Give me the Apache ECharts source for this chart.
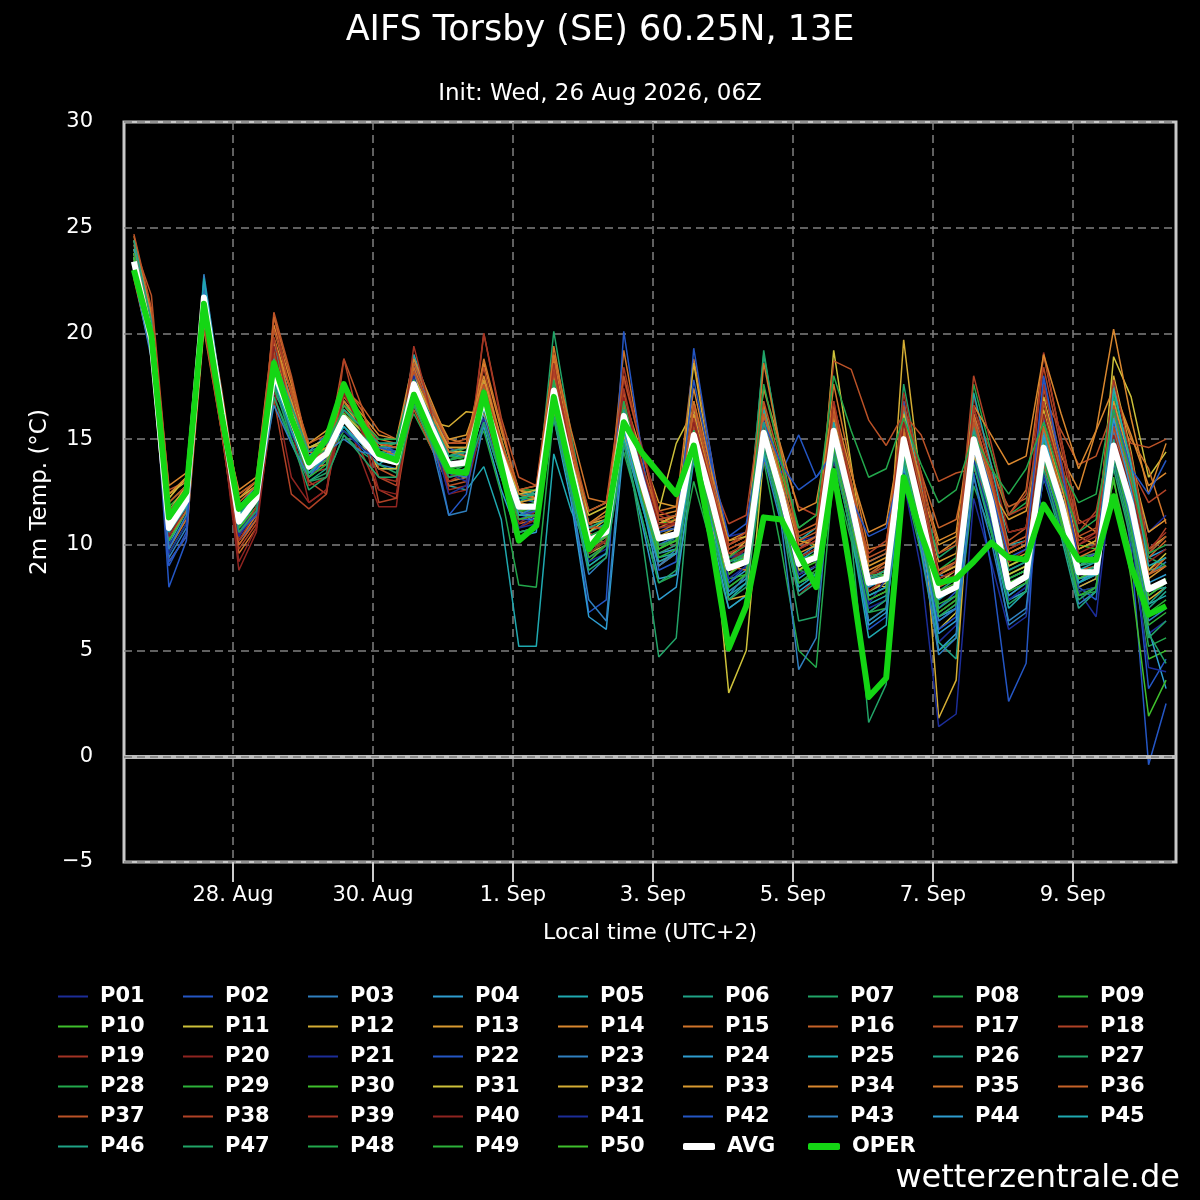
<!DOCTYPE html>
<html>
<head>
<meta charset="utf-8">
<title>AIFS Torsby (SE) 60.25N, 13E</title>
<script src="https://cdn.jsdelivr.net/npm/echarts@6/dist/echarts.min.js"></script>
<style>
html,body{margin:0;padding:0;background:#000;}
#chart{width:1200px;height:1200px;}
</style>
</head>
<body>
<div id="chart"></div>
<script>
// hours since 26 Aug 00:00 local time (UTC+2), 6-hourly steps
var hours = [14,20,26,32,38,44,50,56,62,68,74,80,86,92,98,104,110,116,122,128,134,140,146,152,158,164,170,176,182,188,194,200,206,212,218,224,230,236,242,248,254,260,266,272,278,284,290,296,302,308,314,320,326,332,338,344,350,356,362,368];
var xTickHours = [48,96,144,192,240,288,336];
var xTickLabels = ['28. Aug','30. Aug','1. Sep','3. Sep','5. Sep','7. Sep','9. Sep'];

// ensemble members (2m temperature, °C)
var p01 = [23.2,19.5,9.8,11.4, 22.0,16.8,11.5,12.4, 18.6,16.2,13.4,14.1, 15.8,15.2,14.6,14.2, 18.2,15.8,13.2,13.6, 16.4,14.0,11.2,11.6, 16.8,13.0,9.4,9.8, 16.6,13.4,10.8,10.9, 14.6,12.8,10.4,10.6, 16.0,13.2,9.6,9.2, 14.8,11.6,7.8,8.2, 15.2,10.8,5.4,6.2, 14.4,11.2,7.4,8.0, 15.8,12.6,7.8,6.6, 13.8,10.6,5.8,6.4];
var p02 = [23.6,20.1,8.0,10.2, 21.4,16.0,10.4,11.8, 17.8,15.4,13.6,14.6, 16.4,15.6,14.8,14.4, 18.6,16.4,14.6,14.2, 17.6,14.6,12.2,12.0, 17.8,14.2,10.6,11.0, 17.2,13.6,10.4,10.2, 16.4,13.4,9.2,9.8, 15.2,12.8,9.8,10.4, 16.2,12.6,8.6,8.2, 14.6,11.2,7.0,7.8, 15.6,12.4,8.8,9.2, 16.0,12.2,8.0,8.4, 15.2,9.8,-0.4,2.5];
var p03 = [23.4,19.6,10.4,11.8, 22.8,17.2,11.0,12.2, 17.2,15.8,14.0,15.0, 15.4,14.6,13.8,13.6, 17.0,15.0,13.2,13.4, 17.4,14.8,12.6,12.4, 17.0,12.8,8.6,9.4, 15.4,12.0,9.0,9.8, 14.8,11.4,7.6,8.6, 14.6,12.0,9.4,10.0, 15.0,11.2,6.8,7.4, 16.2,12.6,8.6,8.4, 14.2,10.8,6.2,6.8, 13.8,11.0,7.2,7.8, 15.6,12.4,8.6,9.2];
var p04 = [23.8,20.0,11.4,12.6, 21.2,16.2,11.8,12.8, 19.6,16.8,13.2,14.0, 16.2,15.4,14.2,14.0, 17.8,15.2,13.0,13.2, 15.6,12.6,10.4,10.6, 18.2,13.8,9.8,10.4, 16.0,12.8,9.6,9.8, 15.6,12.0,8.2,8.8, 14.6,11.8,8.4,9.0, 15.8,12.4,9.2,9.6, 14.4,11.0,6.6,7.0, 16.2,12.8,8.4,8.8, 14.0,11.2,8.2,8.6, 16.6,13.2,9.4,9.8];
var p05 = [23.0,19.2,10.0,11.6, 21.6,16.6,10.8,12.0, 18.0,15.8,13.8,14.4, 15.6,14.8,13.6,13.6, 16.8,14.6,12.8,12.6, 13.7,11.2,5.2,5.2, 14.3,11.6,9.8,10.4, 15.6,12.6,9.4,9.6, 14.2,11.0,7.4,8.2, 14.8,12.2,10.2,10.8, 14.6,11.4,7.2,7.6, 15.6,12.0,8.0,8.6, 13.8,10.6,7.0,7.8, 14.4,11.6,9.0,9.6, 15.0,11.8,7.2,7.6];
var p06 = [24.2,20.4,11.2,12.4, 21.8,16.4,11.2,12.6, 18.4,16.4,14.2,14.8, 16.6,15.8,14.6,14.6, 18.0,16.0,14.0,14.2, 17.0,14.4,12.0,12.2, 18.6,14.4,10.6,11.0, 16.4,13.8,11.2,11.4, 15.8,12.6,9.6,10.0, 19.0,14.4,10.4,9.8, 15.2,12.2,8.4,8.6, 13.8,10.4,5.4,4.6, 14.6,11.8,8.2,8.6, 13.2,10.4,7.0,7.8, 16.2,12.8,8.8,9.0];
var p07 = [24.4,20.6,12.0,12.8, 22.0,16.8,11.6,12.4, 19.2,16.6,13.0,13.2, 15.2,14.4,13.8,13.4, 17.4,15.4,14.0,14.4, 17.8,15.0,12.4,12.0, 20.1,15.2,11.0,11.4, 15.2,12.4,9.8,10.4, 16.8,13.0,9.4,9.6, 19.2,14.0,8.8,8.6, 14.2,11.0,7.6,8.0, 17.6,13.2,8.4,8.8, 14.0,11.4,7.8,8.2, 15.2,12.4,9.4,9.6, 17.0,13.6,9.6,10.4];
var p08 = [22.8,19.0,9.6,11.0, 20.6,15.8,10.6,11.4, 17.0,15.0,13.2,13.8, 15.4,14.8,14.4,14.4, 16.2,14.6,13.4,13.8, 15.4,12.4,8.1,8.0, 16.2,12.6,9.0,9.6, 14.4,11.4,8.2,8.6, 13.0,10.0,7.0,7.6, 14.0,9.8,5.0,4.2, 13.4,10.2,6.8,7.0, 13.0,9.6,5.0,5.6, 12.8,10.6,7.4,7.8, 13.4,10.8,7.6,7.8, 14.2,10.4,5.2,5.6];
var p09 = [23.6,19.8,11.8,12.6, 21.0,16.0,11.4,12.0, 18.8,16.2,14.0,14.6, 16.2,15.0,14.4,14.0, 17.6,15.8,14.2,14.6, 17.2,14.6,12.6,12.6, 17.6,14.0,10.8,11.2, 16.2,13.0,10.0,10.2, 15.0,11.8,8.4,8.6, 15.6,12.6,9.2,9.6, 16.0,12.4,8.6,8.6, 15.4,12.0,8.0,8.6, 14.8,12.2,8.6,9.0, 14.4,12.0,9.4,9.2, 14.6,11.6,7.8,8.4];
var p10 = [22.8,19.4,10.6,12.0, 22.2,17.0,10.8,11.6, 17.6,15.6,13.4,14.2, 16.0,15.2,14.0,13.8, 17.2,15.2,13.6,13.8, 16.6,14.0,11.6,11.8, 17.4,13.4,9.2,10.0, 16.8,13.6,11.0,11.2, 14.8,11.6,7.8,8.4, 16.6,13.4,10.8,11.4, 14.2,10.6,6.4,7.0, 14.8,11.0,6.8,7.4, 15.6,12.6,9.0,9.4, 15.0,12.8,10.0,9.8, 13.0,9.6,4.6,5.0];
var p11 = [24.0,20.0,12.4,13.0, 21.2,16.4,12.2,12.8, 18.6,16.4,14.2,14.6, 15.8,14.8,13.6,13.6, 17.8,16.0,14.4,14.4, 17.0,14.2,11.6,11.2, 18.4,14.4,10.6,11.2, 15.6,13.6,11.6,14.8, 16.4,11.8,3.0,5.0, 14.2,12.0,9.0,9.4, 19.2,13.8,8.2,8.0, 13.2,10.2,6.0,6.8, 15.8,12.6,8.6,9.0, 14.8,12.4,9.2,9.6, 18.9,17.0,13.2,14.4];
var p12 = [23.2,19.4,11.0,12.4, 21.4,16.8,11.6,12.6, 19.8,17.2,14.6,15.0, 16.8,15.6,14.2,14.0, 17.2,15.0,13.4,13.6, 16.4,13.8,11.4,11.4, 17.0,13.0,9.6,10.0, 16.4,13.2,10.6,10.8, 15.6,12.2,8.6,9.4, 15.0,12.0,8.6,9.0, 15.6,11.8,7.4,7.8, 19.7,12.8,1.8,3.6, 15.4,12.8,9.6,10.0, 15.6,12.4,8.0,8.4, 14.4,11.4,7.4,8.0];
var p13 = [23.4,20.2,11.6,12.8, 21.6,16.6,11.8,12.6, 18.4,16.6,14.8,15.4, 16.6,15.6,14.8,14.2, 17.4,16.2,15.0,15.2, 17.6,14.8,12.6,12.2, 18.8,14.6,10.4,10.6, 17.0,14.4,12.0,11.8, 16.0,12.6,9.4,10.2, 15.8,12.8,9.6,10.0, 16.4,13.0,9.0,9.4, 15.6,12.6,9.2,9.6, 15.2,12.6,9.2,9.6, 16.2,13.8,10.4,10.0, 15.4,12.4,8.4,9.0];
var p14 = [24.6,21.0,12.8,13.4, 21.0,16.0,12.6,13.2, 20.4,17.6,14.6,14.8, 16.4,15.4,14.6,14.8, 18.0,16.6,15.0,14.8, 18.6,15.4,12.6,12.4, 18.2,14.2,11.0,11.6, 16.0,13.6,11.4,11.6, 15.6,12.8,10.0,10.4, 15.8,12.6,9.0,9.4, 14.6,11.6,8.8,9.2, 13.8,11.8,9.6,10.2, 14.6,13.0,10.6,10.8, 16.8,14.2,12.6,15.4, 20.2,16.0,12.4,14.8];
var p15 = [22.6,19.0,9.2,10.4, 20.2,15.4,9.6,10.8, 19.4,16.8,13.8,14.0, 17.0,16.0,15.0,14.8, 16.6,14.8,13.0,13.2, 16.8,13.4,10.6,10.8, 19.4,14.8,10.8,10.8, 19.2,14.6,11.6,11.8, 18.8,14.2,9.6,9.4, 16.6,13.0,9.4,9.8, 17.6,13.6,9.8,10.0, 16.8,12.8,8.6,9.0, 16.2,13.8,11.4,12.6, 19.0,15.0,11.2,10.6, 17.4,15.0,13.6,11.0];
var p16 = [24.0,20.6,12.2,13.2, 22.2,17.4,12.0,12.8, 19.2,17.4,14.8,15.2, 17.4,16.6,15.4,15.0, 18.2,16.2,14.4,14.6, 16.2,13.6,11.0,11.2, 17.6,13.2,9.8,10.4, 17.2,14.0,11.2,11.0, 14.6,11.8,8.8,9.6, 14.0,12.2,10.6,11.0, 15.8,12.6,8.6,9.2, 16.4,13.4,10.8,11.2, 15.0,13.4,11.8,12.2, 13.8,11.4,8.8,9.0, 15.8,12.6,9.4,10.2];
var p17 = [24.2,21.8,12.6,13.0, 20.6,15.6,10.0,11.2, 21.0,18.0,14.4,14.2, 18.8,16.6,13.6,13.2, 16.4,14.6,12.8,13.0, 20.0,16.0,13.2,12.8, 19.0,15.0,10.6,10.0, 15.0,12.2,9.2,9.6, 16.8,13.6,10.0,10.4, 15.6,12.8,9.8,10.4, 18.7,18.3,15.9,14.7, 16.2,15.2,13.0,13.4, 13.6,12.0,10.2,10.8, 17.0,15.4,13.8,14.2, 16.4,14.8,14.6,15.0];
var p18 = [23.6,20.4,11.2,12.2, 20.8,15.4,9.8,11.0, 16.9,12.4,11.7,12.4, 18.8,15.4,13.2,12.8, 17.0,15.0,13.6,14.0, 18.4,14.8,12.2,12.4, 18.0,14.2,11.0,10.6, 16.6,13.0,9.6,10.0, 15.6,13.2,11.0,11.4, 17.4,14.2,11.8,11.4, 15.0,12.2,9.6,10.2, 14.6,11.8,8.4,8.8, 16.4,14.4,11.4,12.4, 18.4,14.6,10.6,11.6, 15.8,13.6,12.0,12.6];
var p19 = [23.8,20.0,10.8,12.0, 21.2,16.2,11.0,12.0, 20.8,17.0,13.4,13.6, 16.2,14.4,12.6,12.2, 17.8,15.2,13.0,13.4, 20.0,15.8,12.4,12.6, 17.2,13.4,10.0,10.4, 18.4,14.6,11.4,11.0, 14.4,11.6,8.6,9.2, 15.0,12.6,10.0,10.4, 14.4,11.4,7.8,8.4, 15.4,12.2,8.8,9.0, 16.0,13.2,10.0,10.4, 19.1,15.0,11.0,11.4, 15.0,12.4,8.8,9.4];
var p20 = [23.0,19.2,10.2,11.6, 21.0,15.8,8.8,10.6, 17.4,13.2,12.0,12.6, 16.4,14.0,11.8,11.8, 19.0,15.6,12.4,12.6, 16.0,13.2,11.0,11.6, 17.6,13.8,10.4,10.8, 17.8,14.8,11.6,11.2, 16.2,12.8,9.4,9.8, 14.8,11.4,7.6,8.4, 16.8,12.8,8.6,8.8, 14.0,11.0,6.8,7.4, 17.0,13.8,10.6,10.8, 15.4,12.8,10.0,10.6, 14.6,12.6,10.6,11.2];
var p21 = [23.2,19.4,10.0,11.2, 21.6,16.2,10.6,11.8, 17.6,15.2,13.6,14.4, 15.8,15.0,14.4,14.2, 18.4,16.0,13.4,13.0, 16.0,13.2,10.8,11.4, 16.6,12.8,9.4,10.0, 15.8,12.8,10.0,10.4, 15.2,12.4,9.4,9.6, 15.2,13.0,10.2,10.4, 15.6,11.6,7.0,7.4, 13.0,8.8,1.4,2.0, 12.2,9.2,6.0,6.6, 13.4,11.0,8.2,8.8, 15.8,13.4,10.6,11.4];
var p22 = [23.4,19.8,9.2,10.4, 22.4,17.0,10.2,11.2, 17.8,15.8,14.2,15.0, 16.0,15.0,14.2,14.4, 18.2,15.4,11.4,12.4, 17.2,14.0,11.2,11.2, 17.6,12.4,6.8,7.4, 20.1,14.6,8.8,9.2, 19.3,14.2,8.2,9.0, 14.0,13.4,15.2,13.2, 14.2,10.8,6.0,6.6, 16.8,12.2,6.4,7.0, 13.4,9.0,2.6,4.4, 17.8,13.2,8.0,7.4, 15.0,11.2,3.2,4.6];
var p23 = [22.8,19.0,9.4,10.8, 22.4,17.0,11.0,12.0, 18.6,16.6,14.4,15.2, 16.2,15.4,14.6,14.6, 18.8,16.4,13.4,13.2, 17.0,14.0,11.6,11.0, 17.8,13.6,9.6,10.2, 16.2,13.0,10.0,10.4, 15.4,12.2,8.8,9.4, 15.4,12.4,9.0,9.6, 15.2,11.4,7.6,8.0, 14.2,10.6,6.4,7.0, 15.8,12.2,8.4,8.8, 14.6,11.6,8.6,9.0, 15.4,12.2,7.6,8.2];
var p24 = [23.0,19.4,10.2,11.6, 21.4,16.2,11.2,12.2, 17.4,15.6,13.8,14.8, 15.6,14.8,14.0,14.2, 17.0,15.2,13.8,14.0, 16.2,13.4,10.6,10.8, 16.0,12.0,6.6,6.0, 14.8,11.2,7.4,8.0, 14.0,10.6,7.0,7.6, 14.8,11.6,8.2,8.6, 14.6,10.8,6.2,6.8, 13.6,9.8,5.0,5.8, 13.8,11.0,7.4,7.8, 13.2,10.8,8.2,8.8, 14.0,10.8,6.0,3.2];
var p25 = [24.0,20.2,11.0,12.2, 22.6,17.2,11.4,12.4, 19.4,16.8,13.4,14.0, 15.6,14.6,13.8,14.4, 19.0,16.6,14.2,14.2, 17.8,14.8,12.4,12.4, 17.4,13.6,10.2,10.8, 16.8,13.4,10.4,10.6, 16.0,12.8,9.2,9.4, 16.4,13.0,9.2,9.8, 14.8,10.6,5.6,6.2, 16.4,12.8,8.6,9.2, 17.2,13.8,10.0,10.2, 15.4,12.2,8.8,9.2, 17.6,13.4,7.8,8.0];
var p26 = [23.6,19.8,11.2,12.4, 21.8,16.6,11.4,12.4, 18.0,15.6,13.0,13.6, 16.4,15.6,14.8,14.8, 17.6,15.8,14.4,14.6, 16.8,14.4,12.0,12.6, 17.0,13.2,9.8,10.2, 15.6,12.6,9.6,10.0, 15.0,12.0,9.0,9.4, 15.6,12.0,8.2,8.6, 15.6,12.2,8.4,8.8, 14.6,11.0,7.0,7.6, 14.2,11.6,8.4,8.8, 15.0,12.2,9.0,9.2, 14.4,11.0,7.0,7.8];
var p27 = [23.4,19.6,10.6,12.0, 21.4,16.0,11.0,12.0, 17.0,14.8,13.0,13.4, 16.8,15.8,14.6,14.4, 17.2,15.4,13.6,13.4, 17.4,14.6,12.0,11.6, 16.8,13.8,11.6,12.0, 15.4,10.6,4.7,5.6, 15.0,12.0,9.0,9.6, 15.0,11.4,6.4,6.6, 14.6,10.4,1.6,3.4, 15.2,12.4,9.4,10.0, 15.6,12.2,8.4,8.8, 14.2,11.4,8.6,9.0, 13.6,10.2,5.8,4.4];
var p28 = [23.8,20.2,11.6,12.6, 21.6,16.4,11.8,12.6, 18.6,16.0,13.4,14.0, 16.0,15.2,14.6,14.8, 17.8,15.8,14.0,14.2, 17.2,14.6,12.2,12.2, 17.0,13.6,10.4,10.8, 16.4,13.0,10.0,10.2, 15.4,12.4,9.4,10.0, 15.0,12.0,8.8,9.4, 15.4,12.0,8.6,9.0, 14.8,11.8,8.8,9.4, 17.6,14.4,11.4,12.0, 15.8,13.6,12.0,12.4, 17.2,14.0,9.4,9.0];
var p29 = [23.2,19.4,10.6,11.8, 21.2,16.2,11.6,12.4, 17.4,15.4,13.6,14.2, 16.4,15.4,14.4,14.0, 17.4,15.6,14.2,14.0, 16.4,13.8,11.6,11.6, 16.6,13.2,10.0,10.6, 16.0,12.8,9.8,10.2, 14.6,11.4,8.0,8.6, 15.0,11.8,8.2,8.6, 15.0,11.6,8.2,8.4, 15.4,11.4,7.2,7.6, 15.2,12.0,8.4,8.8, 14.8,11.6,7.8,8.0, 14.8,11.4,6.8,7.4];
var p30 = [23.0,19.2,10.2,11.6, 21.8,16.6,10.8,11.8, 18.2,16.0,13.8,14.6, 16.0,15.2,14.2,14.0, 17.6,15.4,13.8,13.8, 16.6,14.2,12.2,12.4, 17.2,13.4,9.6,10.2, 15.8,12.8,10.2,10.4, 15.0,11.8,8.6,9.2, 15.2,12.0,8.8,9.2, 14.8,11.8,8.4,8.8, 14.4,10.8,6.6,7.2, 14.6,11.6,7.6,8.2, 14.0,11.2,8.4,8.6, 13.2,8.4,1.9,3.6];
var p31 = [23.6,19.8,12.2,13.2, 21.2,16.4,12.4,13.0, 18.8,16.6,14.6,15.0, 16.6,15.8,14.6,14.2, 18.0,16.2,14.6,14.6, 17.2,14.6,12.4,12.6, 17.6,14.0,11.4,11.8, 15.8,13.2,11.0,11.4, 15.8,13.0,10.2,10.4, 14.6,11.8,8.8,9.4, 15.0,11.6,7.8,8.2, 16.2,12.6,8.2,8.8, 15.2,12.4,9.0,9.4, 17.0,13.6,9.8,10.2, 16.4,13.0,8.8,9.6];
var p32 = [23.8,20.2,12.0,12.8, 20.8,15.8,11.6,12.6, 18.8,16.6,14.6,14.8, 16.2,15.4,14.8,14.6, 17.0,15.8,15.6,16.3, 16.2,14.4,12.6,12.8, 16.4,13.4,11.0,11.2, 15.2,12.6,10.4,10.8, 18.6,13.6,7.4,7.6, 15.4,12.8,10.2,10.0, 14.0,11.0,7.8,8.4, 15.8,12.4,8.6,9.0, 14.6,12.4,9.6,10.0, 16.4,13.0,9.0,9.4, 18.0,14.4,9.8,10.4];
var p33 = [23.4,19.6,11.4,12.6, 21.6,16.4,11.2,12.4, 19.0,16.8,14.2,14.6, 16.8,15.8,14.8,14.6, 17.8,16.2,14.6,14.6, 17.8,14.8,12.0,12.2, 18.0,14.0,10.2,10.8, 17.0,13.8,11.0,11.4, 16.2,13.0,9.6,10.0, 16.2,13.0,9.4,9.8, 16.0,12.4,8.4,8.8, 15.2,12.6,10.0,10.4, 14.2,12.6,11.2,11.6, 15.6,12.8,9.8,10.2, 16.8,13.8,10.6,11.2];
var p34 = [24.4,20.8,12.4,13.2, 21.4,16.6,12.2,13.0, 19.6,17.2,14.2,14.2, 17.2,16.2,15.2,15.0, 18.8,16.8,14.8,14.8, 18.0,15.0,12.0,11.8, 17.8,14.4,11.6,12.0, 16.8,13.6,10.8,11.2, 17.4,13.6,10.2,10.6, 17.4,14.6,11.6,12.0, 16.6,13.4,10.6,11.0, 15.8,13.0,10.2,10.6, 16.6,15.2,13.8,14.2, 19.0,16.2,13.6,15.4, 17.4,15.2,12.8,13.4];
var p35 = [22.8,19.2,9.8,11.2, 20.4,15.6,10.2,11.4, 19.8,16.6,13.6,13.8, 16.8,15.8,14.2,13.8, 18.4,16.2,14.4,14.2, 18.8,15.6,12.4,12.2, 19.0,15.4,12.2,12.0, 16.2,12.6,9.0,9.6, 16.8,13.0,9.0,8.8, 18.6,14.4,10.0,10.4, 15.6,12.0,8.2,8.6, 15.4,12.0,8.8,9.2, 15.4,12.8,9.6,10.0, 16.8,13.2,9.4,9.8, 15.6,12.6,8.6,9.4];
var p36 = [23.8,20.2,10.4,11.6, 21.0,15.8,10.0,11.2, 20.8,17.8,14.4,14.2, 17.6,16.4,14.6,14.2, 18.6,16.6,14.8,15.0, 17.6,14.6,11.8,12.0, 18.4,14.6,11.0,11.4, 16.6,13.4,10.6,11.0, 15.8,12.8,9.8,10.2, 16.2,13.2,10.2,10.6, 16.4,12.8,9.2,9.6, 15.0,11.8,8.0,8.4, 16.0,13.2,10.0,10.4, 15.6,12.4,9.2,9.6, 16.2,13.0,8.6,9.0];
var p37 = [24.7,21.2,12.0,12.8, 21.2,16.6,12.4,13.0, 20.2,17.2,14.0,14.4, 17.0,16.0,14.8,14.6, 18.2,16.4,14.8,14.8, 17.6,14.8,12.6,12.8, 18.2,14.8,11.6,12.0, 18.0,14.6,11.2,11.4, 16.6,13.2,9.8,10.2, 16.8,13.8,10.4,10.8, 16.2,13.0,9.4,9.8, 16.6,13.4,9.6,10.0, 15.8,13.0,9.8,10.2, 17.4,14.0,10.4,10.8, 16.6,13.4,9.6,10.4];
var p38 = [23.6,19.8,11.6,12.4, 20.4,15.4,10.4,11.8, 19.0,16.4,13.0,12.4, 17.4,15.8,12.0,12.2, 17.0,15.2,13.6,13.8, 16.6,13.8,11.2,11.4, 18.2,14.2,10.2,10.4, 16.0,13.0,10.2,10.6, 15.2,12.6,10.0,10.6, 15.2,12.6,9.8,10.2, 15.8,12.4,8.6,9.0, 16.0,12.6,8.6,9.2, 18.0,14.8,11.4,11.8, 16.8,13.6,10.2,10.6, 15.6,12.8,9.6,10.8];
var p39 = [23.2,19.6,10.6,12.0, 20.8,15.6,10.2,11.6, 19.8,16.2,12.8,13.2, 17.2,15.6,13.2,13.0, 19.4,16.2,12.6,12.8, 17.0,14.0,11.4,11.6, 18.6,14.2,9.8,10.2, 17.4,13.8,10.8,11.0, 16.0,12.8,9.6,10.0, 15.6,12.8,9.8,10.2, 16.8,12.6,7.8,8.4, 17.2,13.2,8.4,8.8, 16.6,13.4,9.8,10.2, 17.6,14.0,10.0,10.4, 17.8,14.2,9.8,10.6];
var p40 = [23.0,19.0,10.4,11.8, 21.2,15.8,9.2,10.8, 19.4,15.6,12.0,12.6, 17.2,15.4,12.6,12.4, 17.6,15.2,13.2,13.6, 16.4,13.4,10.8,11.2, 16.8,13.0,9.6,10.2, 17.0,13.8,11.0,11.0, 15.8,12.6,9.2,9.8, 15.6,12.6,9.4,9.8, 15.2,11.8,8.0,8.6, 15.8,12.2,8.2,8.6, 15.0,12.4,9.2,9.8, 16.2,13.2,9.6,10.0, 15.2,12.6,9.2,9.8];
var p41 = [23.0,19.2,9.6,11.0, 21.6,16.2,10.4,11.6, 17.6,15.4,14.0,14.8, 15.4,14.6,14.0,13.8, 18.0,15.4,12.4,12.8, 16.8,13.6,10.8,11.0, 17.2,13.0,9.2,9.6, 16.2,13.2,10.4,10.6, 15.2,12.0,8.4,9.0, 14.6,11.8,8.6,9.0, 14.0,10.8,7.2,8.4, 13.4,10.4,6.0,6.6, 14.0,11.0,7.4,8.0, 13.2,10.8,7.8,8.0, 14.2,10.4,4.2,4.0];
var p42 = [23.2,19.6,9.0,10.6, 21.2,16.0,10.6,11.4, 18.4,15.8,13.2,14.2, 15.8,15.0,14.6,14.4, 17.6,15.6,13.6,13.8, 16.6,13.8,11.4,11.6, 17.0,13.4,10.2,10.6, 16.4,13.6,10.6,10.8, 17.8,13.8,10.4,11.0, 15.8,13.8,12.6,13.2, 14.4,12.2,10.4,10.8, 14.2,10.6,6.0,6.6, 15.4,12.6,9.4,9.8, 18.0,13.8,9.2,9.6, 16.4,13.6,12.4,14.0];
var p43 = [22.8,18.8,9.8,11.4, 22.0,16.8,11.2,12.0, 16.6,14.8,13.2,14.4, 15.0,14.4,14.2,14.0, 17.2,14.8,11.4,11.6, 15.8,13.2,11.4,11.8, 16.6,12.4,7.4,6.4, 15.6,12.2,9.0,9.6, 14.4,11.2,7.8,8.4, 14.2,11.0,4.1,5.6, 14.8,11.0,6.4,7.0, 13.8,10.0,4.8,5.6, 13.2,10.2,6.4,7.0, 14.0,11.6,8.4,8.8, 14.6,11.2,6.4,7.0];
var p44 = [23.6,19.8,10.8,12.2, 21.8,16.8,11.8,12.6, 18.2,16.2,14.2,14.8, 16.0,15.2,14.4,14.2, 17.6,15.6,13.8,14.0, 16.8,14.2,11.8,11.8, 17.4,13.6,10.0,10.4, 15.4,12.2,8.4,8.6, 15.2,12.0,8.8,9.4, 15.0,11.6,7.8,8.4, 15.4,11.8,8.0,8.4, 14.2,10.4,5.8,6.4, 14.6,11.4,7.6,8.2, 15.2,12.0,8.4,8.6, 16.0,12.6,8.2,8.6];
var p45 = [23.4,19.6,10.6,11.8, 21.4,16.4,11.4,12.2, 17.8,15.4,13.4,14.2, 15.8,15.0,14.2,14.2, 17.2,15.2,13.4,13.6, 16.4,13.8,11.4,11.4, 16.6,12.8,9.0,9.6, 15.0,12.0,9.2,9.6, 14.8,11.4,7.6,8.2, 14.4,11.4,8.0,8.6, 15.8,12.0,7.6,8.0, 13.8,10.8,7.4,8.0, 14.8,11.8,8.0,8.4, 14.6,11.6,8.2,8.6, 17.4,13.8,9.0,9.4];
var p46 = [24.4,20.6,11.4,12.4, 21.2,16.2,11.6,12.4, 18.8,16.6,14.4,14.8, 16.4,15.6,14.8,14.8, 17.8,16.0,14.2,14.4, 17.0,14.4,12.2,12.4, 17.6,14.0,10.8,11.2, 16.4,13.2,10.2,10.6, 15.4,12.2,9.2,9.6, 15.8,12.6,9.0,9.4, 15.2,11.8,8.4,8.8, 14.8,11.6,7.8,8.4, 15.4,12.4,8.8,9.2, 14.6,11.8,9.0,9.4, 15.0,11.6,7.2,8.0];
var p47 = [23.2,19.4,10.8,12.0, 21.0,15.8,10.6,11.6, 17.6,15.0,12.6,13.2, 15.2,14.2,13.2,13.2, 16.6,14.8,13.2,13.4, 15.8,13.2,10.6,10.8, 16.0,12.4,8.8,9.4, 14.8,11.4,8.2,8.8, 14.2,10.8,7.4,8.0, 14.6,11.2,7.6,8.2, 14.2,10.6,6.8,7.4, 14.0,10.4,6.6,7.2, 13.8,10.8,7.2,7.8, 13.6,10.6,7.4,8.0, 14.0,10.4,5.6,6.4];
var p48 = [23.8,20.0,11.4,12.6, 21.6,16.6,11.6,12.4, 18.6,16.2,13.8,14.4, 16.6,15.8,15.0,15.0, 17.8,15.8,13.8,14.0, 17.0,14.2,11.8,12.0, 17.8,14.0,10.4,10.8, 16.8,13.4,10.2,10.4, 15.4,12.4,9.2,9.6, 17.6,14.0,10.8,11.4, 18.0,15.4,13.2,13.6, 16.0,13.8,12.0,12.6, 15.2,13.6,12.4,13.6, 15.8,13.0,10.6,11.2, 16.4,13.2,9.6,10.0];
var p49 = [23.4,19.8,11.0,12.2, 21.4,16.4,11.2,12.2, 18.4,15.8,13.2,13.8, 16.0,15.0,14.0,14.2, 17.4,15.4,13.6,13.8, 16.6,13.8,11.2,11.4, 17.2,13.2,9.4,10.0, 15.8,12.4,9.4,9.8, 14.8,11.4,8.0,8.6, 15.0,11.6,8.2,8.8, 14.6,11.0,7.4,7.8, 14.4,10.8,6.8,7.4, 14.8,11.4,7.8,8.2, 14.2,11.0,7.6,8.0, 14.4,10.8,6.2,6.8];
var p50 = [23.6,19.6,10.8,12.0, 21.6,16.4,11.0,12.0, 18.0,15.8,13.8,14.4, 16.2,15.2,14.2,14.0, 17.6,15.6,13.8,14.0, 17.0,14.2,11.8,11.8, 17.4,13.4,9.8,10.4, 16.0,12.8,9.8,10.2, 15.2,12.2,9.0,9.4, 15.2,12.4,9.2,9.6, 15.4,12.0,8.2,8.6, 15.0,11.8,7.8,8.2, 15.0,12.0,8.2,8.6, 14.6,11.8,8.4,8.8, 14.8,11.6,7.6,8.2];

// ensemble mean and operational run
var avg = [23.4,19.7,10.8,12.1, 21.7,16.5,11.1,12.2, 18.2,16.0,13.7,14.3, 16.0,15.0,14.1,13.9, 17.6,15.6,13.8,13.9, 16.9,14.2,11.8,11.8, 17.3,13.6,10.2,10.6, 16.1,13.1,10.3,10.5, 15.2,12.2,8.9,9.2, 15.3,12.4,9.1,9.4, 15.4,12.0,8.2,8.4, 15.0,11.5,7.6,8.0, 15.0,12.0,8.0,8.5, 14.6,12.0,8.7,8.7, 14.7,11.9,7.9,8.3];
var oper = [23.0,19.9,11.3,12.5, 21.4,16.2,11.7,12.5, 18.6,16.0,13.9,15.0, 17.6,15.8,14.3,14.0, 17.1,15.2,13.5,13.4, 17.2,13.7,10.2,10.9, 17.0,13.3,9.8,10.9, 15.8,14.4,13.4,12.4, 14.7,10.2,5.1,7.1, 11.3,11.2,9.6,8.0, 13.5,8.5,2.8,3.7, 13.2,10.5,8.2,8.4, 9.2,10.1,9.4,9.3, 11.9,10.6,9.3,9.3, 12.3,9.0,6.7,7.1];

var members = [p01,p02,p03,p04,p05,p06,p07,p08,p09,p10,p11,p12,p13,p14,p15,p16,p17,p18,p19,p20,
               p21,p22,p23,p24,p25,p26,p27,p28,p29,p30,p31,p32,p33,p34,p35,p36,p37,p38,p39,p40,
               p41,p42,p43,p44,p45,p46,p47,p48,p49,p50];
// colour cycle of 20, repeats for P21.. and P41..
var memberColors = ['#1c2d99','#2456c4','#2f7fbf','#2e9ccf','#1fa9b0','#1fa386','#21a467','#23a84c','#2db13a','#3fbf2c',
                    '#cdc13a','#d4ad34','#d99a30','#d9872e','#d0742a','#c66228','#bb5227','#b04226','#a33324','#8f2420'];

var chart = echarts.init(document.getElementById('chart'));

function toPairs(vals){
    return vals.map(function(v, i){ return [hours[i], v]; });
}

var names = [];
var series = [];
members.forEach(function(m, k){
    var name = 'P' + (k < 9 ? '0' : '') + (k + 1);
    names.push(name);
    series.push({
        name: name, type: 'line', data: toPairs(m), symbol: 'none',
        color: memberColors[k % 20],
        lineStyle: {width: 1.5},
        z: 2
    });
});
// zero line
series[0].markLine = {
    silent: true, symbol: ['none', 'none'], label: {show: false}, animation: false,
    data: [
        {yAxis: 0, lineStyle: {color: '#bdbdbd', width: 4, type: 'solid'}},
        {yAxis: 0, lineStyle: {color: '#777', width: 1.5, type: [8, 5]}}
    ]
};
series.push({name: 'AVG', type: 'line', data: toPairs(avg), symbol: 'none', color: '#ffffff',
    lineStyle: {width: 6, join: 'round'}, z: 3});
series.push({name: 'OPER', type: 'line', data: toPairs(oper), symbol: 'none', color: '#14d614',
    lineStyle: {width: 6, join: 'round'}, z: 4});

var legendText = {color: '#fff', fontSize: 21, fontWeight: 'bold', fontFamily: 'DejaVu Sans',
    width: 74, padding: [0, 0, 0, 7], lineHeight: 20};
var gridLine = {show: true, lineStyle: {color: '#808080', width: 1.5, type: [8, 5]}};

var option = {
    backgroundColor: '#000',
    animation: false,
    textStyle: {fontFamily: 'DejaVu Sans'},
    title: [
        {text: 'AIFS Torsby (SE) 60.25N, 13E', left: 'center', top: 8,
         textStyle: {color: '#fff', fontSize: 35, fontWeight: 'normal', fontFamily: 'DejaVu Sans'}},
        {text: 'Init: Wed, 26 Aug 2026, 06Z', left: 'center', top: 78,
         textStyle: {color: '#fff', fontSize: 23, fontWeight: 'normal', fontFamily: 'DejaVu Sans'}}
    ],
    legend: [
        {data: names, left: 58, top: 986, width: 1122, orient: 'horizontal', padding: 0,
         itemWidth: 30, itemHeight: 2, itemGap: 9, icon: 'rect', selectedMode: false,
         textStyle: legendText},
        {data: ['AVG', 'OPER'], left: 683, top: 1136, orient: 'horizontal', padding: 0,
         itemWidth: 32, itemHeight: 7, itemGap: 7, icon: 'roundRect', selectedMode: false,
         textStyle: legendText}
    ],
    grid: {left: 124, top: 122, right: 24, bottom: 338, show: true,
           borderColor: '#c8c8c8', borderWidth: 3, backgroundColor: 'transparent'},
    xAxis: {
        type: 'value', min: 10.6, max: 371.4,
        axisLine: {show: false, onZero: false},
        axisTick: {show: true, customValues: xTickHours, length: 20, lineStyle: {color: '#cccccc', width: 2}},
        axisLabel: {customValues: xTickHours, color: '#fff', fontSize: 21, margin: 23,
            formatter: function(v){ return xTickLabels[xTickHours.indexOf(v)]; }},
        splitLine: gridLine,
        name: 'Local time (UTC+2)', nameLocation: 'middle', nameGap: 60,
        nameTextStyle: {color: '#fff', fontSize: 22}
    },
    yAxis: {
        type: 'value', min: -5, max: 30, interval: 5,
        axisLine: {show: false}, axisTick: {show: false},
        axisLabel: {color: '#fff', fontSize: 21, margin: 31,
            formatter: function(v){ return String(v).replace('-', '\u2212'); }},
        splitLine: gridLine,
        name: '2m Temp. (°C)', nameLocation: 'middle', nameGap: 70, nameRotate: 90,
        nameTextStyle: {color: '#fff', fontSize: 23}
    },
    graphic: [{
        type: 'text', right: 20, bottom: 5,
        style: {text: 'wetterzentrale.de', fill: '#fff', font: '32px "DejaVu Sans"'}
    }],
    series: series
};

chart.setOption(option);
</script>
</body>
</html>
